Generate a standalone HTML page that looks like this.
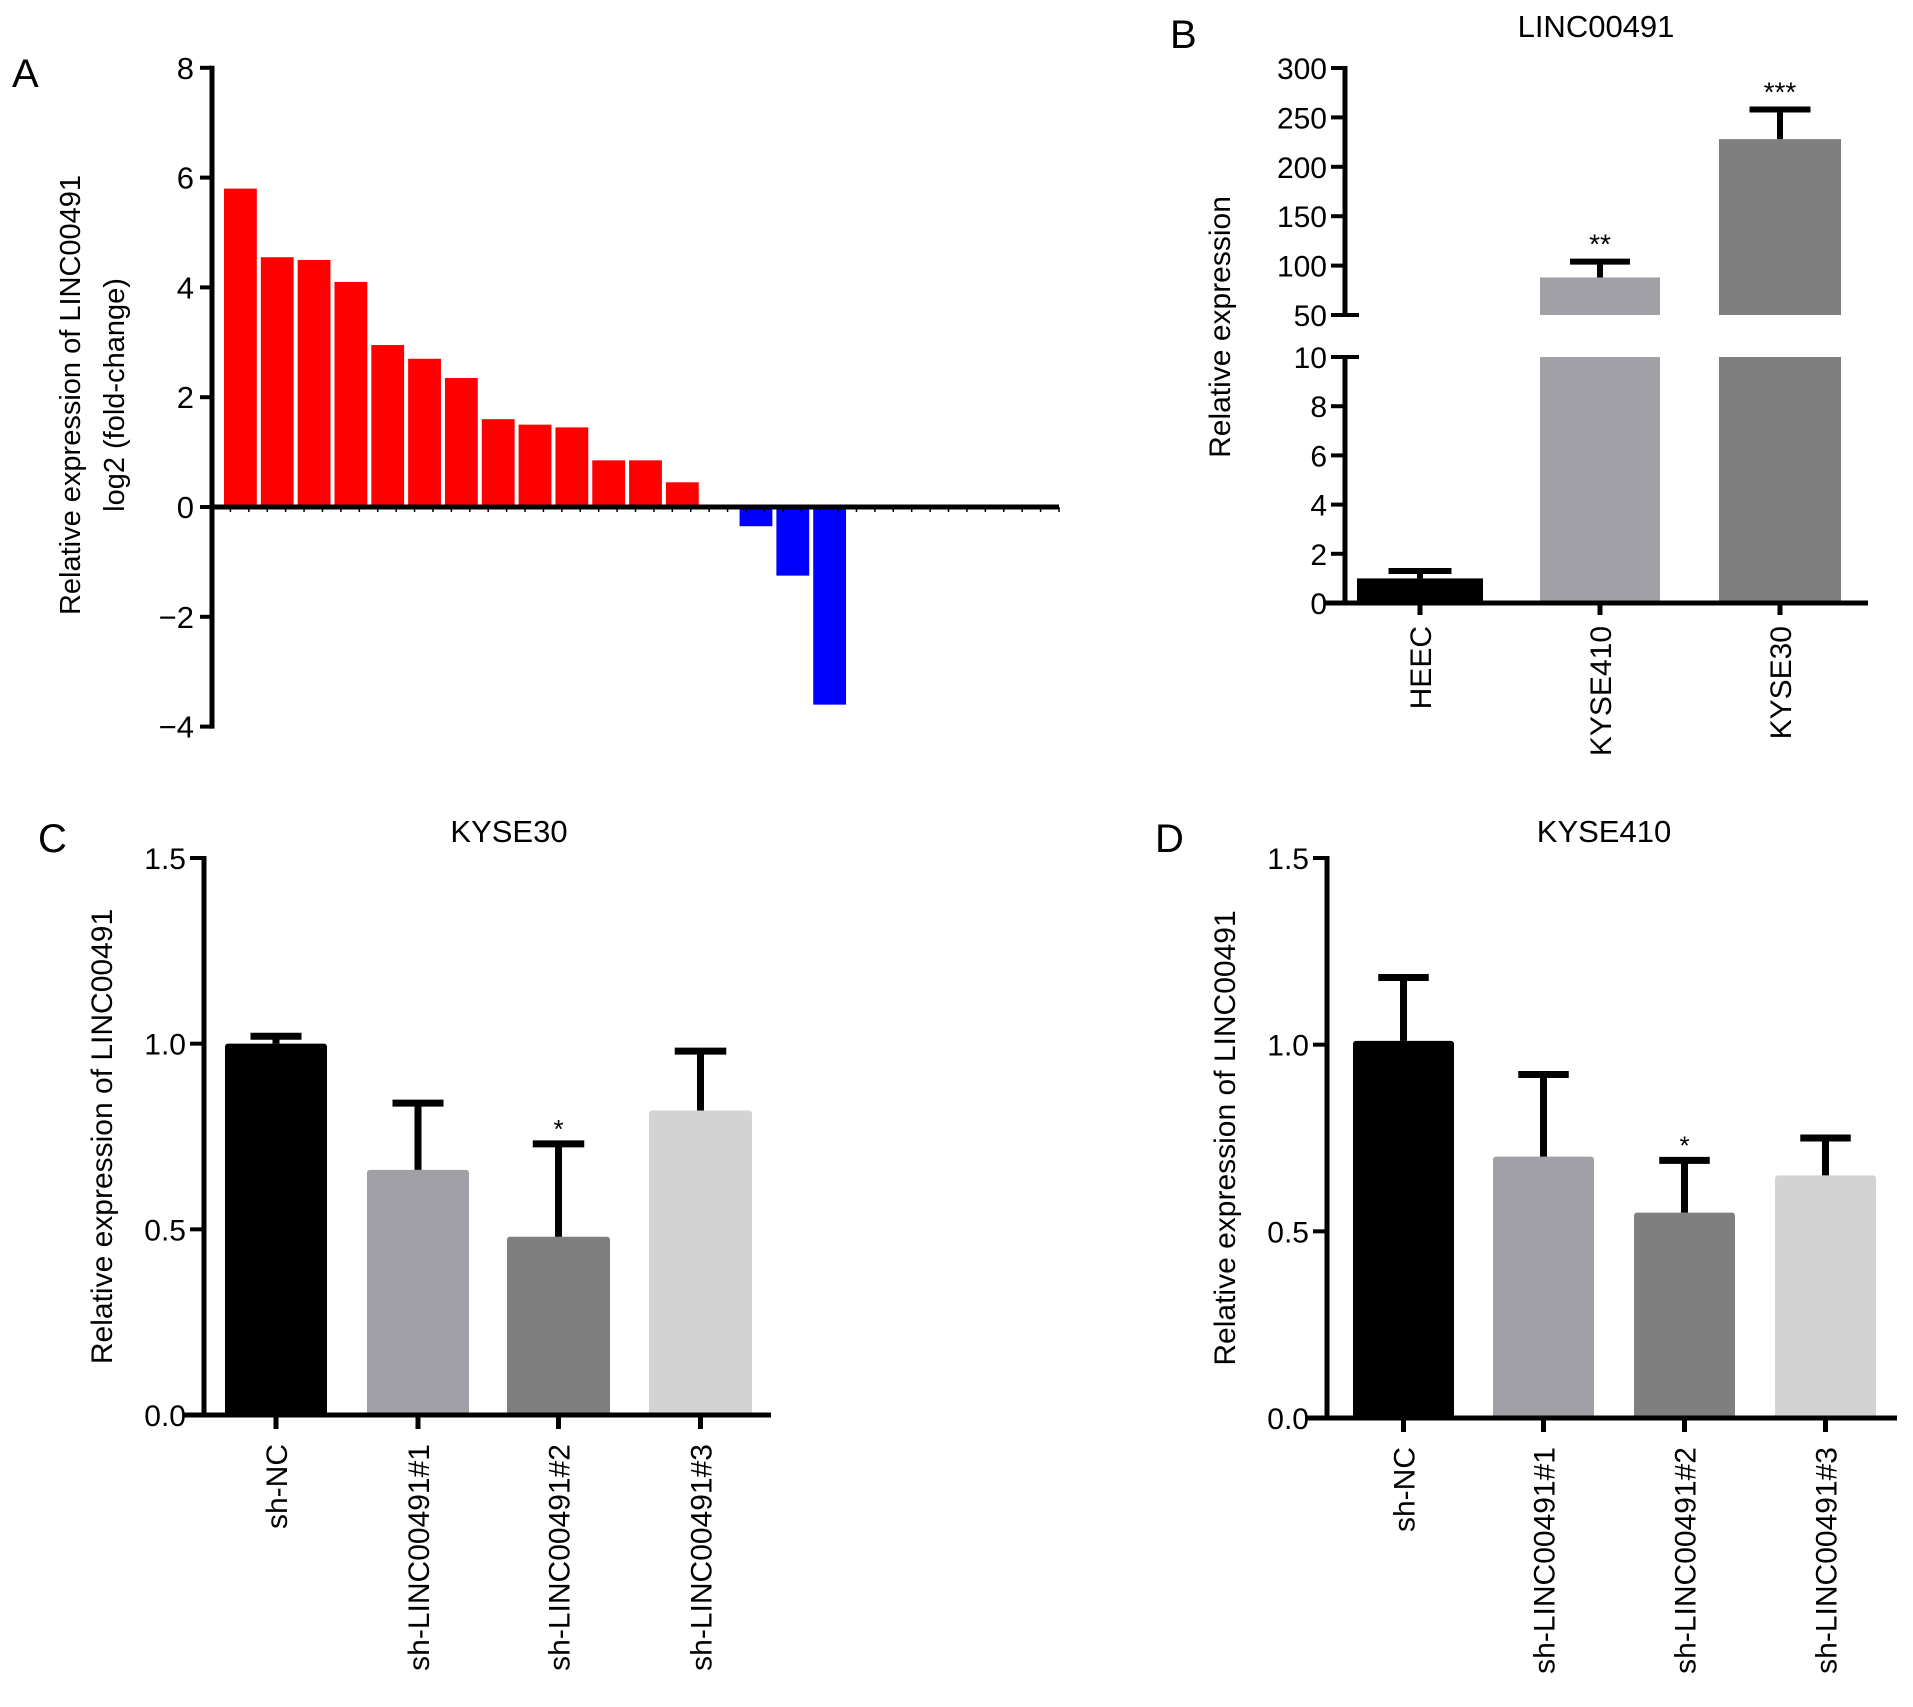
<!DOCTYPE html>
<html><head><meta charset="utf-8"><style>
html,body{margin:0;padding:0;background:#fff;}
svg{display:block;font-family:"Liberation Sans",Arial,sans-serif;}
</style></head><body>
<svg id="fig" width="1913" height="1707" viewBox="0 0 1913 1707" xmlns="http://www.w3.org/2000/svg"></svg>
<script>
// ---- Panel A data ----
const aValues = [5.8,4.55,4.5,4.1,2.95,2.7,2.35,1.6,1.5,1.45,0.85,0.85,0.45,0,-0.35,-1.25,-3.6,0,0,0,0,0,0];
const aTicks = [8,6,4,2,0,-2,-4];
const aTickLabels = ["8","6","4","2","0","\u22122","\u22124"];
// ---- Panel B data ----
const bCats = ["HEEC","KYSE410","KYSE30"];
const bValues = [1.0,88,228];
const bErr = [1.3,104,258];
const bSig = ["","**","***"];
const bTopTicks = [300,250,200,150,100,50];
const bLowTicks = [10,8,6,4,2,0];
// ---- Panel C data ----
const cCats = ["sh-NC","sh-LINC00491#1","sh-LINC00491#2","sh-LINC00491#3"];
const cValues = [1.0,0.66,0.48,0.82];
const cErr = [1.02,0.84,0.73,0.98];
const cSig = ["","","*",""];
// ---- Panel D data ----
const dCats = ["sh-NC","sh-LINC00491#1","sh-LINC00491#2","sh-LINC00491#3"];
const dValues = [1.01,0.70,0.55,0.65];
const dErr = [1.18,0.92,0.69,0.75];
const dSig = ["","","*",""];
const cdTicks = [0,0.5,1.0,1.5];
const cdTickLabels = ["0.0","0.5","1.0","1.5"];
const grays = ["#000000","#a0a0a6","#7f7f7f","#d3d3d3"];

const svg = document.getElementById('fig');
const NS = 'http://www.w3.org/2000/svg';
function mk(tag, attrs, parent){
  const e = document.createElementNS(NS, tag);
  for (const k in attrs) e.setAttribute(k, attrs[k]);
  (parent||svg).appendChild(e);
  return e;
}
function txt(s, attrs, parent){ const t = mk('text', attrs, parent); t.textContent = s; return t; }

// ===== Panel A =====
const gA = mk('g', {});


const aX0 = 212, aX1 = 1059, aY = v => 507 - v * 54.9;
const slot = (aX1 - aX0) / aValues.length;
aValues.forEach((v, i) => {
  if (v === 0) return;
  const x = aX0 + 12 + i * slot;
  const r = mk('rect', {x: x, y: Math.min(aY(v), aY(0)), width: slot - 4, height: Math.abs(aY(v) - aY(0)), fill: v > 0 ? '#ff0000' : '#0000ff'}, gA);
  
  
});
for (let i = 0; i <= aValues.length * 2; i++) {
  mk('line', {x1: aX0 + i * slot / 2, x2: aX0 + i * slot / 2, y1: aY(0), y2: aY(0) + 5, stroke: '#000', 'stroke-width': 1.5}, gA);
}
mk('line', {x1: aX0, x2: aX1, y1: aY(0), y2: aY(0), stroke: '#000', 'stroke-width': 5}, gA);
mk('line', {x1: aX0, x2: aX0, y1: aY(8) - 2, y2: aY(-4) + 2, stroke: '#000', 'stroke-width': 5}, gA);
aTicks.forEach((v, i) => {
  mk('line', {x1: aX0 - 12, x2: aX0, y1: aY(v), y2: aY(v), stroke: '#000', 'stroke-width': 4}, gA);
  txt(aTickLabels[i], {x: aX0 - 18, y: aY(v) + 11, 'text-anchor': 'end', 'font-size': 31}, gA);
});
const aT = txt('Relative expression of LINC00491', {x: 0, y: 0, 'text-anchor': 'middle', 'font-size': 29, transform: 'translate(80,395) rotate(-90)'}, gA);


txt('log2 (fold-change)', {x: 0, y: 0, 'text-anchor': 'middle', 'font-size': 29, transform: 'translate(124,395) rotate(-90)'}, gA);
txt('A', {x: 12, y: 87, 'font-size': 40}, gA);

// ===== Panel B =====
const gB = mk('g', {});


const bX0 = 1345, bX1 = 1868;
function bY(v){ return v >= 50 ? 315 - (v - 50) * (315 - 68) / 250 : 603 - Math.min(v, 10) * (603 - 357) / 10; }
const bBars = [[1357,1483],[1540,1660],[1719,1841]];
bValues.forEach((v, i) => {
  const [l, r] = bBars[i], c = (l + r) / 2, w = r - l;
  if (v >= 50) {
    const b1 = mk('rect', {x: l, y: bY(10), width: w, height: bY(0) - bY(10), fill: grays[i]}, gB);
    
    
    const b2 = mk('rect', {x: l, y: bY(v), width: w, height: bY(50) - bY(v), fill: grays[i]}, gB);
    
    
  } else {
    const b = mk('rect', {x: l, y: bY(v), width: w, height: bY(0) - bY(v), fill: grays[i]}, gB);
    
    
  }
  mk('line', {x1: c, x2: c, y1: bY(v), y2: bY(bErr[i]), stroke: '#000', 'stroke-width': 6}, gB);
  mk('line', {x1: c - w * 0.25, x2: c + w * 0.25, y1: bY(bErr[i]), y2: bY(bErr[i]), stroke: '#000', 'stroke-width': 6}, gB);
  if (bSig[i]) txt(bSig[i], {x: c, y: bY(bErr[i]) - 8, 'text-anchor': 'middle', 'font-size': 28}, gB);
  mk('line', {x1: c, x2: c, y1: bY(0), y2: bY(0) + 12, stroke: '#000', 'stroke-width': 5}, gB);
  const lb = txt(bCats[i], {x: 0, y: 0, 'text-anchor': 'end', 'font-size': 30, transform: 'translate(' + (c + 11) + ',626) rotate(-90)'}, gB);
  
  
});
mk('line', {x1: bX0 - 20, x2: bX1, y1: bY(0), y2: bY(0), stroke: '#000', 'stroke-width': 5}, gB);
mk('line', {x1: bX0, x2: bX0, y1: bY(300) - 2, y2: bY(50), stroke: '#000', 'stroke-width': 5}, gB);
mk('line', {x1: bX0, x2: bX0, y1: bY(10), y2: bY(0), stroke: '#000', 'stroke-width': 5}, gB);
bTopTicks.forEach(v => {
  mk('line', {x1: bX0 - 14, x2: bX0 + (v === 50 ? 14 : 0), y1: bY(v), y2: bY(v), stroke: '#000', 'stroke-width': 4}, gB);
  txt(String(v), {x: bX0 - 18, y: bY(v) + 11, 'text-anchor': 'end', 'font-size': 30}, gB);
});
bLowTicks.forEach(v => {
  mk('line', {x1: bX0 - 14, x2: bX0 + (v === 10 ? 14 : 0), y1: bY(v), y2: bY(v), stroke: '#000', 'stroke-width': 4}, gB);
  txt(String(v), {x: bX0 - 18, y: bY(v) + 11, 'text-anchor': 'end', 'font-size': 30}, gB);
});
const bT = txt('Relative expression', {x: 0, y: 0, 'text-anchor': 'middle', 'font-size': 30, transform: 'translate(1230,327) rotate(-90)'}, gB);


txt('LINC00491', {x: 1596, y: 37, 'text-anchor': 'middle', 'font-size': 31}, gB);
txt('B', {x: 1170, y: 48, 'font-size': 40}, gB);

// ===== Panels C and D =====
function panelCD(name, letter, letterX, title, titleX, x0, x1, yTop, yBot, bars, cats, vals, errs, sig, ytX){
  const g = mk('g', {});
  
  
  const Y = v => yBot - v * (yBot - yTop) / 1.5;
  vals.forEach((v, i) => {
    const [l, r] = bars[i], c = (l + r) / 2, w = r - l;
    const b = mk('rect', {x: l, y: Y(v), width: w, height: Y(0) - Y(v), fill: grays[i], rx: 3}, g);
    
    
    mk('line', {x1: c, x2: c, y1: Y(v), y2: Y(errs[i]), stroke: '#000', 'stroke-width': 7}, g);
    mk('line', {x1: c - w * 0.25, x2: c + w * 0.25, y1: Y(errs[i]), y2: Y(errs[i]), stroke: '#000', 'stroke-width': 7}, g);
    if (sig[i]) txt(sig[i], {x: c, y: Y(errs[i]) - 6, 'text-anchor': 'middle', 'font-size': 26}, g);
    mk('line', {x1: c, x2: c, y1: Y(0), y2: Y(0) + 14, stroke: '#000', 'stroke-width': 5}, g);
    const lb = txt(cats[i], {x: 0, y: 0, 'text-anchor': 'end', 'font-size': 30, transform: 'translate(' + (c + 11) + ',' + (yBot + 29) + ') rotate(-90)'}, g);
    
    
  });
  mk('line', {x1: x0 - 20, x2: x1, y1: Y(0), y2: Y(0), stroke: '#000', 'stroke-width': 5}, g);
  mk('line', {x1: x0, x2: x0, y1: Y(1.5) - 2, y2: Y(0), stroke: '#000', 'stroke-width': 5}, g);
  cdTicks.forEach((v, i) => {
    mk('line', {x1: x0 - 14, x2: x0, y1: Y(v), y2: Y(v), stroke: '#000', 'stroke-width': 4}, g);
    txt(cdTickLabels[i], {x: x0 - 18, y: Y(v) + 11, 'text-anchor': 'end', 'font-size': 30}, g);
  });
  const t = txt('Relative expression of LINC00491', {x: 0, y: 0, 'text-anchor': 'middle', 'font-size': 30, transform: 'translate(' + ytX + ',' + ((yTop + yBot) / 2) + ') rotate(-90)'}, g);
  
  
  txt(title, {x: titleX, y: 842, 'text-anchor': 'middle', 'font-size': 31}, g);
  txt(letter, {x: letterX, y: 852, 'font-size': 40}, g);
}
panelCD('panel-c', 'C', 38, 'KYSE30', 509, 204, 771, 858, 1415,
  [[225,327],[367,469],[507,610],[649,752]], cCats, cValues, cErr, cSig, 112);
panelCD('panel-d', 'D', 1155, 'KYSE410', 1604, 1327, 1897, 858, 1418,
  [[1353,1454],[1493,1594],[1634,1735],[1775,1876]], dCats, dValues, dErr, dSig, 1235);
</script>
</body></html>
